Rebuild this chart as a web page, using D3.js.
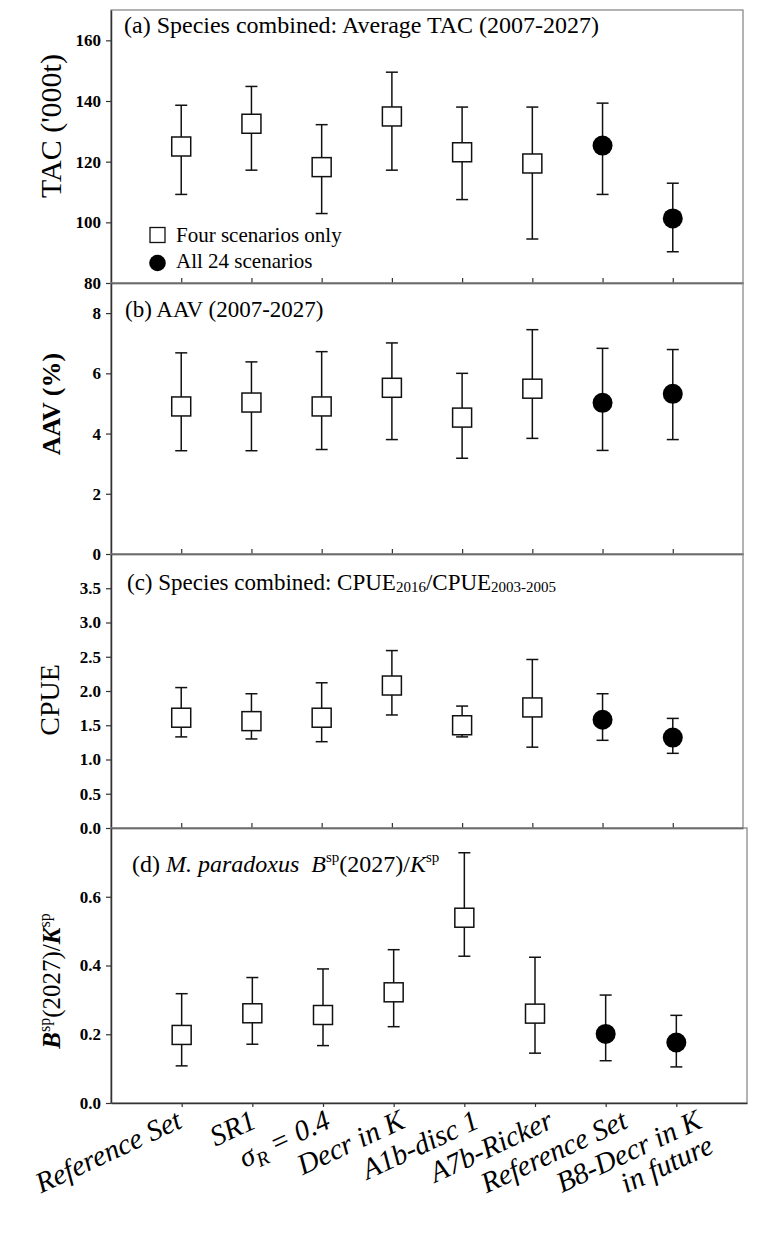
<!DOCTYPE html>
<html>
<head>
<meta charset="utf-8">
<script src="https://cdn.jsdelivr.net/npm/d3@7"></script>
<style>
  body { margin: 0; background: #fff; }
  svg text { font-family: "Liberation Serif", "Times New Roman", serif; }
</style>
</head>
<body>
<script>
// scenario names along the bottom
var categories = ["Reference Set", "SR1", "sigmaR", "Decr in K", "A1b-disc 1", "A7b-Ricker", "Reference Set", "B8-Decr in K"];
// 0 = four scenarios only (open square), 1 = all 24 scenarios (filled circle)
var markerType = [0, 0, 0, 0, 0, 0, 1, 1];

// (a) average TAC ('000t)
var tacMean = [125.0, 132.5, 118.2, 134.9, 123.1, 119.4, 125.3, 101.3];
var tacLow  = [109.2, 117.2, 102.9, 117.2, 107.5, 94.5, 109.2, 90.3];
var tacHigh = [138.6, 144.8, 132.2, 149.5, 138.0, 138.0, 139.3, 112.9];

// (b) AAV (%)
var aavMean = [4.90, 5.03, 4.90, 5.52, 4.53, 5.49, 5.02, 5.32];
var aavLow  = [3.43, 3.43, 3.47, 3.80, 3.18, 3.84, 3.44, 3.80];
var aavHigh = [6.68, 6.38, 6.72, 7.01, 6.00, 7.45, 6.83, 6.79];

// (c) CPUE ratio
var cpueMean = [1.61, 1.56, 1.61, 2.08, 1.50, 1.76, 1.58, 1.32];
var cpueLow  = [1.33, 1.30, 1.26, 1.65, 1.33, 1.18, 1.28, 1.09];
var cpueHigh = [2.05, 1.96, 2.12, 2.59, 1.78, 2.46, 1.96, 1.60];

// (d) M. paradoxus Bsp(2027)/Ksp
var bspMean = [0.198, 0.261, 0.256, 0.322, 0.539, 0.260, 0.201, 0.176];
var bspLow  = [0.108, 0.171, 0.167, 0.222, 0.427, 0.145, 0.123, 0.105];
var bspHigh = [0.318, 0.365, 0.390, 0.446, 0.728, 0.424, 0.314, 0.255];

var tacTicks = [80, 100, 120, 140, 160];
var aavTicks = [0, 2, 4, 6, 8];
var cpueTicks = [0, 0.5, 1, 1.5, 2, 2.5, 3, 3.5];
var bspTicks = [0, 0.2, 0.4, 0.6];

var W = 764, H = 1241, left = 111;
var serif = "'Liberation Serif', 'Times New Roman', serif";

var svg = d3.select("body").append("svg")
    .attr("width", W)
    .attr("height", H);

var panels = [
    {top: 10, bottom: 283, right: 743, domain: [80, 170], ticks: tacTicks, fmt: d3.format("d"),
     mean: tacMean, low: tacLow, high: tacHigh, inward: true},
    {top: 283, bottom: 554, right: 743, domain: [0, 9], ticks: aavTicks, fmt: d3.format("d"),
     mean: aavMean, low: aavLow, high: aavHigh, inward: true},
    {top: 554, bottom: 828, right: 743, domain: [0, 4], ticks: cpueTicks, fmt: d3.format(".1f"),
     mean: cpueMean, low: cpueLow, high: cpueHigh, inward: true},
    {top: 828, bottom: 1103, right: 747, domain: [0, 0.8], ticks: bspTicks, fmt: d3.format(".1f"),
     mean: bspMean, low: bspLow, high: bspHigh, inward: false}
];

var xd;
panels.forEach(function(p, pi) {
    var x = d3.scaleLinear().domain([0, 9]).range([left, p.right]);
    var y = d3.scaleLinear().domain(p.domain).range([p.bottom, p.top]);
    if (pi == 3) xd = x;
    var g = svg.append("g");

    g.append("rect")
        .attr("x", left).attr("y", p.top)
        .attr("width", p.right - left).attr("height", p.bottom - p.top)
        .attr("fill", "none").attr("stroke", "#8a8a8a").attr("stroke-width", 1.3);

    var ya = g.append("g")
        .attr("transform", "translate(" + left + ",0)")
        .call(d3.axisLeft(y).tickValues(p.ticks).tickFormat(p.fmt).tickSize(5).tickSizeOuter(0).tickPadding(5));
    ya.attr("font-family", serif);
    ya.selectAll("text")
        .style("font-family", serif)
        .style("font-size", "17px")
        .style("font-weight", "bold")
        .attr("fill", "#000");

    var xa = g.append("g")
        .attr("transform", "translate(0," + p.bottom + ")")
        .call(d3.axisBottom(x).tickValues(d3.range(1, 9)).tickFormat("").tickSize(p.inward ? -5 : 4).tickSizeOuter(0));

    [ya, xa].forEach(function(a) {
        a.select(".domain").attr("stroke", "#333").attr("stroke-width", 1.5);
        a.selectAll(".tick line").attr("stroke", "#333").attr("stroke-width", 1.2);
    });

    var idx = d3.range(categories.length);
    // error bars
    g.selectAll("line.bar").data(idx).enter().append("line")
        .attr("x1", function(i) { return x(i + 1); })
        .attr("x2", function(i) { return x(i + 1); })
        .attr("y1", function(i) { return y(p.low[i]); })
        .attr("y2", function(i) { return y(p.high[i]); })
        .attr("stroke", "#111").attr("stroke-width", 1.5);
    ["low", "high"].forEach(function(k) {
        g.selectAll("line.cap" + k).data(idx).enter().append("line")
            .attr("x1", function(i) { return x(i + 1) - 6; })
            .attr("x2", function(i) { return x(i + 1) + 6; })
            .attr("y1", function(i) { return y(p[k][i]); })
            .attr("y2", function(i) { return y(p[k][i]); })
            .attr("stroke", "#111").attr("stroke-width", 1.5);
    });
    // markers
    g.selectAll("rect.sq").data(idx.filter(function(i) { return markerType[i] == 0; })).enter().append("rect")
        .attr("x", function(i) { return x(i + 1) - 9.5; })
        .attr("y", function(i) { return y(p.mean[i]) - 9.5; })
        .attr("width", 19).attr("height", 19)
        .attr("fill", "#fff").attr("stroke", "#111").attr("stroke-width", 1.5);
    g.selectAll("circle.dot").data(idx.filter(function(i) { return markerType[i] == 1; })).enter().append("circle")
        .attr("cx", function(i) { return x(i + 1); })
        .attr("cy", function(i) { return y(p.mean[i]); })
        .attr("r", 10)
        .attr("fill", "#000");
});

// panel titles
svg.append("text").attr("x", 124).attr("y", 33).style("font-size", "24px")
    .text("(a) Species combined: Average TAC (2007-2027)");
svg.append("text").attr("x", 125).attr("y", 317).style("font-size", "23px")
    .text("(b) AAV (2007-2027)");
var tc = svg.append("text").attr("x", 127).attr("y", 590).style("font-size", "23px");
tc.append("tspan").text("(c) Species combined: CPUE");
tc.append("tspan").attr("dy", 2).style("font-size", "15px").text("2016");
tc.append("tspan").attr("dy", -2).text("/CPUE");
tc.append("tspan").attr("dy", 2).style("font-size", "15px").text("2003-2005");
var td = svg.append("text").attr("x", 132).attr("y", 872).style("font-size", "24px");
td.append("tspan").text("(d) ");
td.append("tspan").style("font-style", "italic").text("M. paradoxus\u00A0\u00A0B");
td.append("tspan").attr("dy", -10).style("font-size", "15px").text("sp");
td.append("tspan").attr("dy", 10).text("(2027)/");
td.append("tspan").style("font-style", "italic").text("K");
td.append("tspan").attr("dy", -10).style("font-size", "15px").text("sp");

// legend
svg.append("rect").attr("x", 150).attr("y", 227.5).attr("width", 15).attr("height", 15)
    .attr("fill", "#fff").attr("stroke", "#111").attr("stroke-width", 1.3);
svg.append("circle").attr("cx", 157.5).attr("cy", 263).attr("r", 8.3).attr("fill", "#000");
svg.append("text").attr("x", 176).attr("y", 242).style("font-size", "21px").text("Four scenarios only");
svg.append("text").attr("x", 176).attr("y", 268).style("font-size", "21px").text("All 24 scenarios");

// y axis titles
function yTitle(cx, cy) {
    return svg.append("text")
        .attr("transform", "translate(" + cx + "," + cy + ") rotate(-90)")
        .attr("text-anchor", "middle");
}
yTitle(61, 126).style("font-size", "30px").text("TAC ('000t)");
yTitle(60, 404).style("font-size", "26px").style("font-weight", "bold").text("AAV (%)");
yTitle(59, 700).style("font-size", "28px").text("CPUE");
var yt = yTitle(60, 981).style("font-size", "25px");
yt.append("tspan").style("font-weight", "bold").style("font-style", "italic").text("B");
yt.append("tspan").attr("dy", -10).style("font-size", "16px").text("sp");
yt.append("tspan").attr("dy", 10).text("(2027)/");
yt.append("tspan").style("font-weight", "bold").style("font-style", "italic").text("K");
yt.append("tspan").attr("dy", -10).style("font-size", "16px").text("sp");

// rotated scenario labels under the bottom panel
categories.forEach(function(c, i) {
    var t = svg.append("text")
        .attr("transform", "translate(" + (xd(i + 1) + 2 + 3.6 * i) + ",1127) rotate(-25)")
        .attr("text-anchor", "end")
        .style("font-size", "29px")
        .style("font-style", "italic");
    if (c == "sigmaR") {
        t.append("tspan").text("\u03C3");
        t.append("tspan").attr("dy", 6).style("font-size", "20px").text("R");
        t.append("tspan").attr("dy", -6).text(" = 0.4");
    } else if (i == 7) {
        t.append("tspan").attr("x", 0).text(c);
        t.append("tspan").attr("x", 0).attr("dy", "0.95em").text("in future");
    } else {
        t.text(c);
    }
});
</script>
</body>
</html>
